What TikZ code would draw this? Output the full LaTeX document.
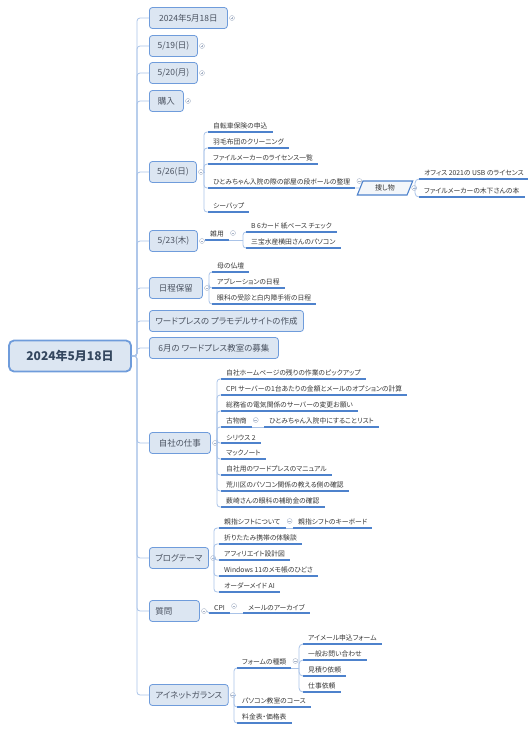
\documentclass[tikz,border=0pt]{standalone}
\usepackage{fontspec}
\newfontfamily\jp{Noto Sans CJK JP}[RawFeature=+palt]
\usetikzlibrary{positioning,shapes.geometric}
\definecolor{boxfill}{HTML}{DCE6F2}
\definecolor{boxline}{HTML}{6F9CDB}
\definecolor{connc}{HTML}{A9C3E8}
\definecolor{ulc}{HTML}{4E82CC}
\definecolor{foldc}{HTML}{A8B4C8}
\definecolor{txt}{HTML}{363636}
\definecolor{toptxt}{HTML}{4A5260}
\definecolor{roottxt}{HTML}{34475F}
\tikzset{
  rootbox/.style={draw=boxline, fill=boxfill, rounded corners=5pt, line width=1.8pt,
    minimum width=122pt, minimum height=31pt, text=roottxt, font=\jp\bfseries\fontsize{12}{14}\selectfont},
  topic/.style={anchor=west, draw=boxline, fill=boxfill, rounded corners=3pt, line width=0.8pt,
    minimum height=21pt, inner xsep=6pt, text=toptxt, font=\jp\fontsize{8.5}{10}\selectfont},
  seekbox/.style={trapezium, trapezium left angle=68, trapezium right angle=112, draw=ulc,
    fill=boxfill!35, line width=1.1pt, minimum width=40pt, minimum height=14pt, inner ysep=1pt,
    text=txt, font=\jp\fontsize{7}{8}\selectfont},
  uline/.style={draw=ulc, line width=1.2pt},
  leaf/.style={anchor=south west, inner xsep=5pt, inner ysep=2.5pt, text=txt,
    font=\jp\fontsize{6.8}{8}\selectfont,
    append after command={(\tikzlastnode.south west) edge[uline] (\tikzlastnode.south east)}},
  conn/.style={draw=connc, line width=0.8pt},
  foldopen/.style={circle, draw=foldc, fill=white, line width=0.4pt, inner sep=0pt, minimum size=5pt,
    path picture={\draw[foldc, line width=0.5pt]
      ([xshift=-1.4pt]path picture bounding box.center) -- ([xshift=1.4pt]path picture bounding box.center);}},
  foldshut/.style={foldopen,
    path picture={\draw[foldc, line width=0.5pt]
      ([xshift=-1.4pt]path picture bounding box.center) -- ([xshift=1.4pt]path picture bounding box.center)
      ([yshift=-1.4pt]path picture bounding box.center) -- ([yshift=1.4pt]path picture bounding box.center);}}
}
\begin{document}
\begin{tikzpicture}[x=1pt,y=-1pt]
\useasboundingbox (0,0) rectangle (528,732);

% root and main topics
\node[rootbox] (root) at (70,356) {2024年5月18日};
\coordinate (trunk) at (137,356);
\node[topic, minimum width=78pt] (b1) at (149,18) {2024年5月18日};
\node[topic, minimum width=48pt] (b2) at (149,46) {5/19(日)};
\node[topic, minimum width=48pt] (b3) at (149,73) {5/20(月)};
\node[topic, minimum width=34pt] (b4) at (149,101) {購入};
\node[topic, minimum width=47pt] (b5) at (149,172) {5/26(日)};
\node[topic, minimum width=48pt] (b6) at (149,241) {5/23(木)};
\node[topic, minimum width=53pt] (b7) at (149,288) {日程保留};
\node[topic, minimum width=153pt] (b8) at (149,321) {ワードプレスの プラモデルサイトの作成};
\node[topic, minimum width=129pt] (b9) at (149,348) {6月の ワードプレス教室の募集};
\node[topic, minimum width=61pt] (b10) at (149,443) {自社の仕事};
\node[topic, minimum width=58pt] (b11) at (149,558) {ブログテーマ};
\node[topic, text width=38pt, align=left] (b12) at (149,611) {質問};
\node[topic, minimum width=78pt] (b13) at (149,695) {アイネットガランス};

\foreach \b in {b1,b2,b3,b4,b5,b6,b7,b8,b9,b10,b11,b12,b13}
  \draw[conn, rounded corners=3pt] (root.east) -- (trunk) |- (\b.west);

% fold marks
\node[foldshut, right=1.5pt of b1] (f1) {};
\node[foldshut, right=1.5pt of b2] (f2) {};
\node[foldshut, right=1.5pt of b3] (f3) {};
\node[foldshut, right=1.5pt of b4] (f4) {};
\node[foldopen, right=1.5pt of b5] (f5) {};
\node[foldopen, right=1.5pt of b6] (f6) {};
\node[foldopen, right=1.5pt of b7] (f7) {};
\node[foldopen, right=1.5pt of b10] (f10) {};
\node[foldopen, right=1.5pt of b11] (f11) {};
\node[foldopen, right=1.5pt of b12] (f12) {};
\node[foldopen, right=1.5pt of b13] (f13) {};

% 5/26
\coordinate (j5) at (204,172);
\node[leaf] (c51) at (208,132) {自転車保険の申込};
\node[leaf] (c52) at (208,148) {羽毛布団のクリーニング};
\node[leaf] (c53) at (208,164) {ファイルメーカーのライセンス一覧};
\node[leaf] (c54) at (208,188) {ひとみちゃん入院の際の部屋の段ボールの整理};
\node[leaf] (c55) at (208,212) {シーバップ};
\draw[conn] (f5.east) -- (j5);
\foreach \c in {c51,c52,c53,c54,c55}
  \draw[conn, rounded corners=3pt] (j5) |- (\c.south west);
\node[foldopen] (f54) at ([shift={(4pt,7pt)}]c54.south east) {};
\node[seekbox] (s1) at (385,188) {捜し物};
\draw[conn] (c54.south east) -- (s1.west);
\node[foldopen, right=1pt of s1] (fs1) {};
\coordinate (js1) at (415,188);
\node[leaf] (c56) at (419,179) {オフィス 2021の USB のライセンス};
\node[leaf] (c57) at (419,197) {ファイルメーカーの木下さんの本};
\draw[conn] (fs1.east) -- (js1);
\foreach \c in {c56,c57}
  \draw[conn, rounded corners=4pt] (js1) |- (\c.south west);

% 5/23
\node[leaf] (c61) at (205,240) {雑用};
\draw[conn] (f6.east) -- (c61.south west);
\node[foldopen] (f61) at ([shift={(4pt,7pt)}]c61.south east) {};
\coordinate (j61) at (243,240);
\node[leaf] (c62) at (246,232) {B 6カード 紙ベース チェック};
\node[leaf] (c63) at (246,248) {三宝水産横田さんのパソコン};
\draw[conn] (c61.south east) -- (j61);
\foreach \c in {c62,c63}
  \draw[conn, rounded corners=3pt] (j61) |- (\c.south west);

% 日程保留
\coordinate (j7) at (209,288);
\node[leaf] (c71) at (212,272) {母の仏壇};
\node[leaf] (c72) at (212,288) {アブレーションの日程};
\node[leaf] (c73) at (212,304) {眼科の受診と白内障手術の日程};
\draw[conn] (f7.east) -- (j7);
\foreach \c in {c71,c72,c73}
  \draw[conn, rounded corners=3pt] (j7) |- (\c.south west);

% 自社の仕事
\coordinate (j10) at (217,443);
\node[leaf] (c101) at (221,379) {自社ホームページの残りの作業のピックアップ};
\node[leaf] (c102) at (221,395) {CPI サーバーの1台あたりの金額とメールのオプションの計算};
\node[leaf] (c103) at (221,411) {総務省の電気関係のサーバーの変更お願い};
\node[leaf] (c104) at (221,427) {古物商};
\node[leaf] (c106) at (221,443) {シリウス 2};
\node[leaf] (c107) at (221,459) {マックノート};
\node[leaf] (c108) at (221,475) {自社用のワードプレスのマニュアル};
\node[leaf] (c109) at (221,491) {荒川区のパソコン関係の教える側の確認};
\node[leaf] (c110) at (221,507) {薮崎さんの眼科の補助金の確認};
\draw[conn] (f10.east) -- (j10);
\foreach \c in {c101,c102,c103,c104,c106,c107,c108,c109,c110}
  \draw[conn, rounded corners=3pt] (j10) |- (\c.south west);
\node[foldopen] (f104) at ([shift={(4pt,7pt)}]c104.south east) {};
\node[leaf] (c105) at (264,427) {ひとみちゃん入院中にすることリスト};
\draw[conn] (c104.south east) -- (c105.south west);

% ブログテーマ
\coordinate (j11) at (214,558);
\node[leaf] (c111) at (219,528) {親指シフトについて};
\node[leaf] (c113) at (219,544) {折りたたみ携帯の体験談};
\node[leaf] (c114) at (219,560) {アフィリエイト設計図};
\node[leaf] (c115) at (219,576) {Windows 11のメモ帳のひどさ};
\node[leaf] (c116) at (219,592) {オーダーメイド AI};
\draw[conn] (f11.east) -- (j11);
\foreach \c in {c111,c113,c114,c115,c116}
  \draw[conn, rounded corners=3pt] (j11) |- (\c.south west);
\node[foldopen] (f111) at ([shift={(4pt,7pt)}]c111.south east) {};
\node[leaf] (c112) at (293,528) {親指シフトのキーボード};
\draw[conn] (c111.south east) -- (c112.south west);

% 質問
\node[leaf] (c121) at (209,613) {CPI};
\draw[conn] (f12.east) -- (c121.south west);
\node[foldopen] (f121) at ([shift={(4pt,7pt)}]c121.south east) {};
\node[leaf] (c122) at (243,613) {メールのアーカイブ};
\draw[conn] (c121.south east) -- (c122.south west);

% アイネットガランス
\coordinate (j13) at (234,695);
\node[leaf] (c131) at (237,668) {フォームの種類};
\node[leaf] (c136) at (237,707) {パソコン教室のコース};
\node[leaf] (c137) at (237,723) {料金表・価格表};
\draw[conn] (f13.east) -- (j13);
\foreach \c in {c131,c136,c137}
  \draw[conn, rounded corners=3pt] (j13) |- (\c.south west);
\node[foldopen] (f131) at ([shift={(4pt,7pt)}]c131.south east) {};
\coordinate (j131) at (299,668);
\node[leaf] (c132) at (303,644) {アイメール申込フォーム};
\node[leaf] (c133) at (303,660) {一般お問い合わせ};
\node[leaf] (c134) at (303,676) {見積り依頼};
\node[leaf] (c135) at (303,692) {仕事依頼};
\draw[conn] (c131.south east) -- (j131);
\foreach \c in {c132,c133,c134,c135}
  \draw[conn, rounded corners=4pt] (j131) |- (\c.south west);
\end{tikzpicture}
\end{document}
